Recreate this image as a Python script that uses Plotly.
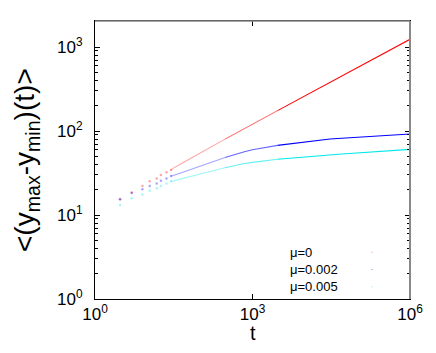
import plotly.graph_objects as go

# sparse early samples (drawn as separate dots)
t_early = [3, 5, 8, 11, 15, 18, 23, 28]
red_early = [15.4, 18.6, 22.1, 25.2, 27.3, 29.9, 32.2, 34.3]
blue_early = [15.4, 18.3, 20.2, 22.1, 23.8, 25.6, 27.3, 29.1]
cyan_early = [13.2, 15.8, 17.6, 19.5, 20.8, 22.1, 23.8, 25.2]

# dense later samples (drawn as a line)
t_late = [28, 30, 50, 70, 100, 150, 200, 300, 500, 700, 1000, 1500, 2000, 3000, 5000,
          7000, 1e4, 2e4, 3e4, 5e4, 7e4, 1e5, 2e5, 3e5, 5e5, 7e5, 1e6]
red_late = [34.3, 35.7, 42.7, 48.1, 54.4, 62.8, 69.5, 80.1, 95.7, 107.7, 121, 139, 153, 175, 208,
            233, 263, 331, 379, 451, 504, 569, 718, 821, 975, 1092, 1235]
blue_late = [29.1, 29.3, 32.8, 35.3, 38.1, 41.6, 44.3, 48.4, 53.6, 56.8, 59.9, 62.6, 64.5, 67.4, 70.2,
             71.9, 73.9, 77.9, 80.3, 81.9, 83.0, 84.1, 86.5, 87.9, 89.6, 90.8, 92.1]
cyan_late = [25.2, 25.3, 27.5, 29.0, 30.7, 32.7, 34.2, 36.5, 39.3, 41.0, 42.3, 43.7, 44.6, 46.1, 47.5,
             48.2, 49.2, 51.1, 52.2, 53.3, 54.1, 55.0, 56.5, 57.5, 58.7, 59.6, 60.5]

labels = ["μ=0", "μ=0.002", "μ=0.005"]
colors = ["#ff0000", "#0000ff", "#00e8e8"]

x_title = "t"
y_title = "<(y<sub>max</sub>-y<sub>min</sub>)(t)>"
x_ticks = [1, 1e3, 1e6]
x_ticktext = ["10<sup>0</sup>", "10<sup>3</sup>", "10<sup>6</sup>"]
y_ticks = [1, 10, 100, 1000]
y_ticktext = ["10<sup>0</sup>", "10<sup>1</sup>", "10<sup>2</sup>", "10<sup>3</sup>"]

fig = go.Figure()
series = [(red_early, red_late), (blue_early, blue_late), (cyan_early, cyan_late)]
# segments of the late line with increasing density -> opacity
segments = [(28, 300, 0.35), (300, 3000, 0.6), (3000, 1e6, 1.0)]
for (ye, yl), c, name in zip(series, colors, labels):
    fig.add_trace(go.Scatter(x=t_early, y=ye, mode="markers",
                             marker=dict(color=c, size=2.5, opacity=0.35),
                             showlegend=False, name=name))
    for lo, hi, op in segments:
        xs = [t for t in t_late if lo <= t <= hi]
        ys = [v for t, v in zip(t_late, yl) if lo <= t <= hi]
        fig.add_trace(go.Scatter(x=xs, y=ys, mode="lines",
                                 line=dict(color=c, width=1.1), opacity=op,
                                 showlegend=False, name=name))

minor_y = [m * 10 ** k for k in range(0, 4) for m in range(2, 10)]

fig.update_xaxes(type="log", range=[0, 6], tickmode="array", tickvals=x_ticks,
                 ticktext=x_ticktext, ticks="inside", ticklen=5, tickcolor="black",
                 showline=True, linecolor="black", linewidth=1, mirror="ticks",
                 showgrid=False, zeroline=False, automargin=False,
                 tickfont=dict(family="Liberation Sans", size=17, color="black"))
fig.update_yaxes(type="log", range=[0, 3.31], tickmode="array", tickvals=y_ticks,
                 ticktext=y_ticktext, ticks="inside", ticklen=5, tickcolor="black",
                 minor=dict(tickvals=minor_y, ticks="inside", ticklen=3, tickcolor="black", showgrid=False),
                 showline=True, linecolor="black", linewidth=1, mirror="ticks",
                 showgrid=False, zeroline=False, ticklabelstandoff=8, automargin=False,
                 tickfont=dict(family="Liberation Sans", size=17, color="black"))

# axis titles as annotations for exact placement
fig.add_annotation(x=0.5, y=0, xref="paper", yref="paper", text=x_title, showarrow=False,
                   xanchor="center", yanchor="middle", yshift=-34,
                   font=dict(family="Liberation Sans", size=20, color="black"))
fig.add_annotation(x=0, y=0.5, xref="paper", yref="paper", text=y_title, showarrow=False,
                   textangle=-90, xanchor="center", yanchor="middle", xshift=-69,
                   font=dict(family="Liberation Sans", size=28, color="black"))

# legend text (text left, tiny sample right)
for i, (name, c) in enumerate(zip(labels, colors)):
    yp = 0.168 - i * 0.062
    fig.add_annotation(x=0.612, y=yp, xref="paper", yref="paper", text=name,
                       showarrow=False, xanchor="left", yanchor="middle",
                       font=dict(family="Liberation Sans", size=13, color="black"))
    fig.add_shape(type="line", xref="paper", yref="paper", x0=0.877, x1=0.882, y0=yp, y1=yp,
                  line=dict(color=c, width=1), opacity=0.3)

# grey top and right frame
fig.add_shape(type="line", xref="paper", yref="paper", x0=0, x1=1, y0=1, y1=1,
              line=dict(color="#888888", width=1.5), layer="above")
fig.add_shape(type="line", xref="paper", yref="paper", x0=1, x1=1, y0=0, y1=1,
              line=dict(color="#888888", width=2), layer="above")

# the page body adds an 8px margin, so the figure is 16px smaller than the window
fig.update_layout(width=420, height=337, margin=dict(l=87, r=18, t=13, b=46, autoexpand=False),
                  paper_bgcolor="white", plot_bgcolor="white", showlegend=False)

fig.write_html("out.html")
